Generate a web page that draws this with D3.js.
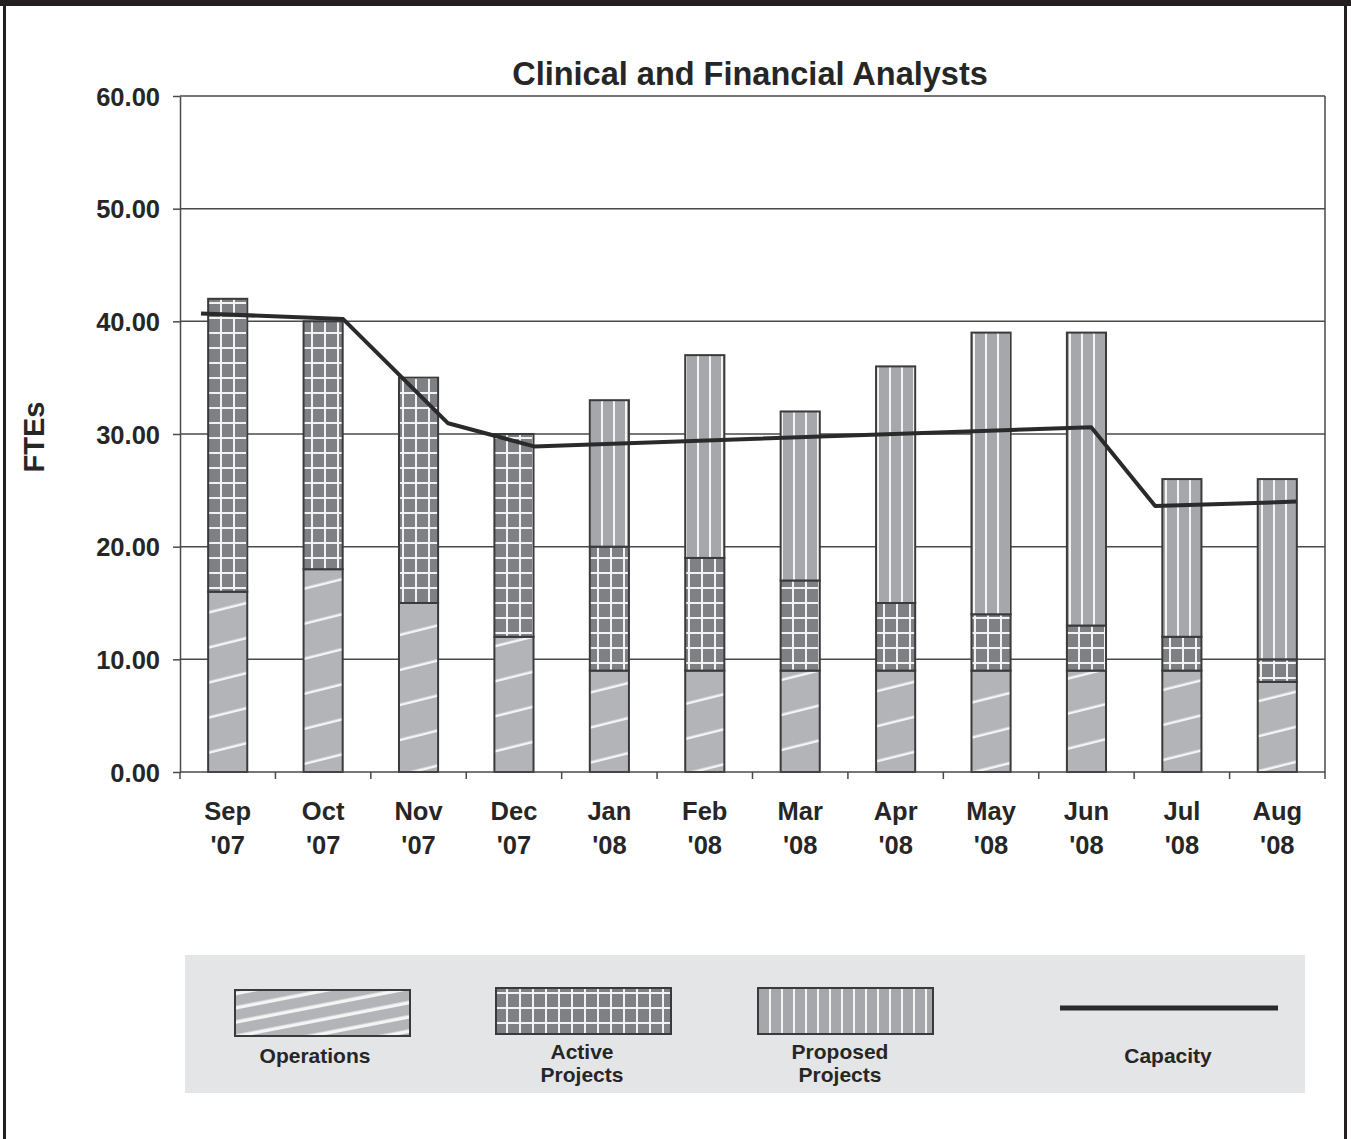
<!DOCTYPE html>
<html>
<head>
<meta charset="utf-8">
<script src="https://cdn.jsdelivr.net/npm/d3@7"></script>
<style>
body { margin: 0; background: #fff; }
svg text { font-family: "Liberation Sans", Arial, sans-serif; font-weight: bold; fill: #262626; }
</style>
</head>
<body>
<svg id="chart" width="1351" height="1139"></svg>
<script>
// data
const months = ["Sep", "Oct", "Nov", "Dec", "Jan", "Feb", "Mar", "Apr", "May", "Jun", "Jul", "Aug"];
const years = ["'07", "'07", "'07", "'07", "'08", "'08", "'08", "'08", "'08", "'08", "'08", "'08"];
const operations = [16, 18, 15, 12, 9, 9, 9, 9, 9, 9, 9, 8];
const activeProjects = [26, 22, 20, 18, 11, 10, 8, 6, 5, 4, 3, 2];
const proposedProjects = [0, 0, 0, 0, 13, 18, 15, 21, 25, 26, 14, 16];
// capacity line: position in month units (0 = Sep) and value
const capacityPos = [-0.28, 1.21, 2.31, 3.21, 9.05, 9.72, 11.2];
const capacity = [40.7, 40.2, 30.95, 28.9, 30.6, 23.6, 24.0];
const yTicks = [0, 10, 20, 30, 40, 50, 60];
const seriesKeys = ["ops", "active", "proposed"];
const legendLabels = [["Operations"], ["Active", "Projects"], ["Proposed", "Projects"], ["Capacity"]];

var width = 1351,
    height = 1139;

const plot = { left: 180, right: 1325, top: 96, bottom: 772 };

var svg = d3.select("svg#chart");

// frame
svg.append("rect").attr("x", 0).attr("y", 0).attr("width", width).attr("height", 6).attr("fill", "#231f20");
svg.append("rect").attr("x", 3).attr("y", 0).attr("width", 3).attr("height", height).attr("fill", "#231f20");
svg.append("rect").attr("x", 1344).attr("y", 0).attr("width", 3).attr("height", height).attr("fill", "#231f20");

// patterns
var defs = svg.append("defs");

function opsPattern(id, gap, angle, lw) {
    let p = defs.append("pattern")
        .attr("id", id)
        .attr("patternUnits", "userSpaceOnUse")
        .attr("width", 40).attr("height", gap)
        .attr("patternTransform", "rotate(" + angle + ")");
    p.append("rect").attr("width", 40).attr("height", gap).attr("fill", "#b3b4b8");
    p.append("rect").attr("y", gap - lw).attr("width", 40).attr("height", lw).attr("fill", "#f4f4f4");
}
opsPattern("ops", 34, -14, 2.5);
opsPattern("ops-legend", 14, -11, 3.5);

var grid = defs.append("pattern")
    .attr("id", "active")
    .attr("patternUnits", "userSpaceOnUse")
    .attr("width", 13).attr("height", 15)
    .attr("x", 1).attr("y", 4);
grid.append("rect").attr("width", 13).attr("height", 15).attr("fill", "#7f8084");
grid.append("rect").attr("x", 11).attr("width", 2.2).attr("height", 15).attr("fill", "#f2f2f2");
grid.append("rect").attr("y", 13).attr("width", 13).attr("height", 2.2).attr("fill", "#f2f2f2");

var stripes = defs.append("pattern")
    .attr("id", "proposed")
    .attr("patternUnits", "userSpaceOnUse")
    .attr("width", 12).attr("height", 10)
    .attr("x", 3);
stripes.append("rect").attr("width", 12).attr("height", 10).attr("fill", "#a6a7ab");
stripes.append("rect").attr("x", 10).attr("width", 2).attr("height", 10).attr("fill", "#f4f4f4");

const fills = { ops: "url(#ops)", active: "url(#active)", proposed: "url(#proposed)" };

// scales
var x = d3.scaleBand().domain(months).range([plot.left, plot.right]);
var xPos = d3.scaleLinear().domain([-0.5, months.length - 0.5]).range([plot.left, plot.right]);
var y = d3.scaleLinear().domain([0, 60]).range([plot.bottom, plot.top]);

// gridlines
svg.append("g").selectAll("line")
    .data(yTicks.filter(d => d > 0))
    .enter().append("line")
    .attr("x1", plot.left).attr("x2", plot.right)
    .attr("y1", d => y(d)).attr("y2", d => y(d))
    .attr("stroke", "#4a4a4a").attr("stroke-width", 1.5);
svg.append("line")
    .attr("x1", plot.right).attr("x2", plot.right)
    .attr("y1", plot.top).attr("y2", plot.bottom)
    .attr("stroke", "#4a4a4a").attr("stroke-width", 1.5);

// stacked bars
var table = months.map((m, i) => ({ month: m, ops: operations[i], active: activeProjects[i], proposed: proposedProjects[i] }));
var stacked = d3.stack().keys(seriesKeys)(table);
var barWidth = x.bandwidth() * 0.41;

svg.append("g").selectAll("g")
    .data(stacked)
    .enter().append("g")
    .attr("fill", d => fills[d.key])
    .selectAll("rect")
    .data(d => d.filter(s => s[1] - s[0] > 0))
    .enter().append("rect")
    .attr("x", d => x(d.data.month) + (x.bandwidth() - barWidth) / 2)
    .attr("width", barWidth)
    .attr("y", d => y(d[1]))
    .attr("height", d => y(d[0]) - y(d[1]))
    .attr("stroke", "#3a3a3a")
    .attr("stroke-width", 2);

// axes
var yAxis = d3.axisLeft(y).tickValues(yTicks).tickFormat(d3.format(".2f")).tickSize(7).tickSizeOuter(0);
var yG = svg.append("g").attr("transform", "translate(" + plot.left + ",0)").call(yAxis);
yG.select(".domain").attr("stroke", "#4a4a4a").attr("stroke-width", 1.5);
yG.selectAll(".tick line").attr("stroke", "#4a4a4a").attr("stroke-width", 1.5);
yG.selectAll(".tick text").attr("x", -20).attr("dy", "0.36em")
    .style("font-size", "25.5px").style("font-family", null).attr("fill", "#262626");

svg.append("line")
    .attr("x1", plot.left).attr("x2", plot.right)
    .attr("y1", plot.bottom).attr("y2", plot.bottom)
    .attr("stroke", "#4a4a4a").attr("stroke-width", 1.5);

var xTicks = months.map(m => x(m)).concat([plot.right]);
svg.append("g").selectAll("line")
    .data(xTicks)
    .enter().append("line")
    .attr("x1", d => d).attr("x2", d => d)
    .attr("y1", plot.bottom).attr("y2", plot.bottom + 7)
    .attr("stroke", "#4a4a4a").attr("stroke-width", 1.5);

var xLabels = svg.append("g").selectAll("text")
    .data(months)
    .enter().append("text")
    .attr("text-anchor", "middle")
    .attr("x", d => x(d) + x.bandwidth() / 2)
    .attr("y", 820)
    .style("font-size", "25.5px");
xLabels.append("tspan").text(d => d);
xLabels.append("tspan")
    .attr("x", d => x(d) + x.bandwidth() / 2)
    .attr("dy", 34)
    .text((d, i) => years[i]);

// capacity line
var line = d3.line().x(d => xPos(d[0])).y(d => y(d[1]));
svg.append("path")
    .datum(capacityPos.map((p, i) => [p, capacity[i]]))
    .attr("d", line)
    .attr("fill", "none")
    .attr("stroke", "#2a2a2a")
    .attr("stroke-width", 4)
    .attr("stroke-linejoin", "round");

// titles
svg.append("text")
    .attr("x", 750).attr("y", 85)
    .attr("text-anchor", "middle")
    .style("font-size", "32.5px")
    .text("Clinical and Financial Analysts");

svg.append("text")
    .attr("transform", "translate(44,437) rotate(-90)")
    .attr("text-anchor", "middle")
    .style("font-size", "29px")
    .text("FTEs");

// legend
var legend = svg.append("g");
legend.append("rect")
    .attr("x", 185).attr("y", 955)
    .attr("width", 1120).attr("height", 138)
    .attr("fill", "#e4e5e7");

const swatchFills = ["url(#ops-legend)", "url(#active)", "url(#proposed)"];
const swatchX = [235, 496, 758];
const labelX = [315, 582, 840, 1168];

swatchFills.forEach(function(f, i) {
    legend.append("rect")
        .attr("x", swatchX[i]).attr("y", i == 0 ? 990 : 988)
        .attr("width", 175).attr("height", 46)
        .attr("fill", f)
        .attr("stroke", "#3a3a3a").attr("stroke-width", 2);
});
legend.append("line")
    .attr("x1", 1060).attr("x2", 1278)
    .attr("y1", 1008).attr("y2", 1008)
    .attr("stroke", "#2a2a2a").attr("stroke-width", 5);

legendLabels.forEach(function(lines, i) {
    let t = legend.append("text")
        .attr("text-anchor", "middle")
        .attr("x", labelX[i])
        .attr("y", lines.length == 1 ? 1063 : 1059)
        .style("font-size", "21px");
    lines.forEach(function(s, j) {
        t.append("tspan").attr("x", labelX[i]).attr("dy", j == 0 ? 0 : 23).text(s);
    });
});
</script>
</body>
</html>
